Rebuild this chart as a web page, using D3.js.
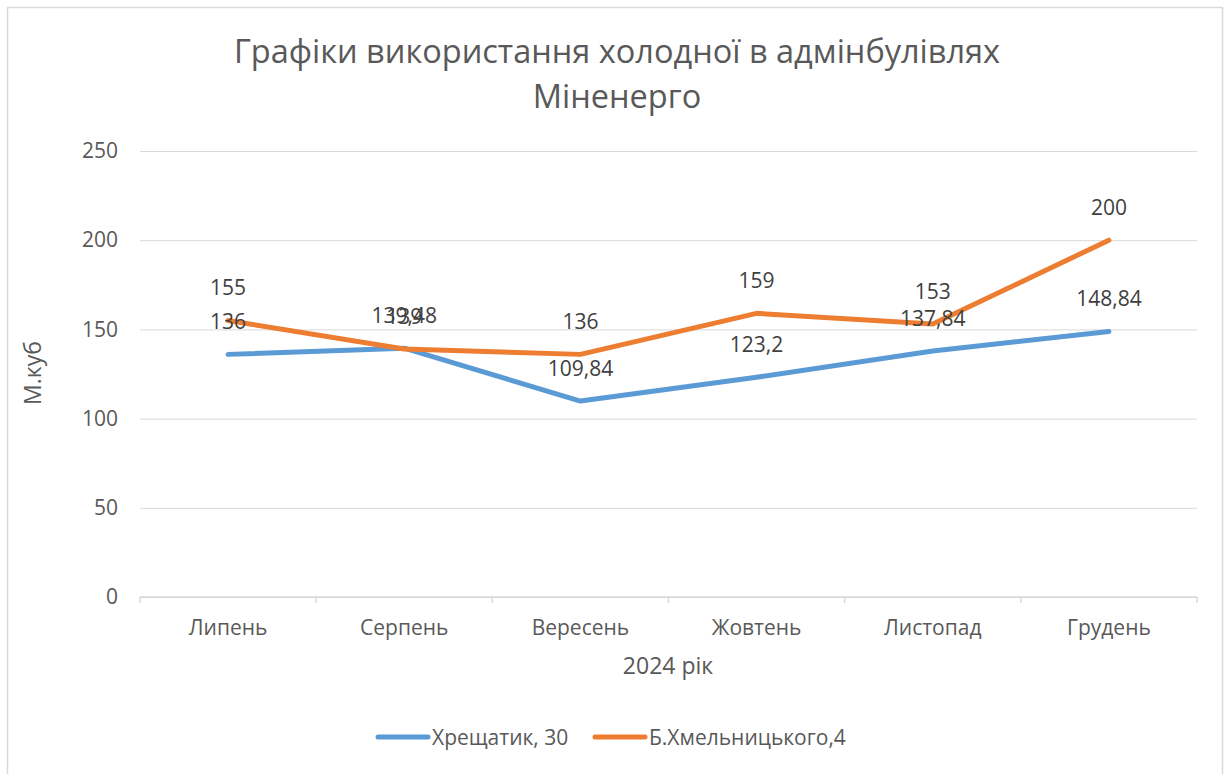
<!DOCTYPE html>
<html>
<head>
<meta charset="utf-8">
<script src="https://cdn.jsdelivr.net/npm/d3@7"></script>
<style>
  body { margin: 0; background: #fff; }
  text { font-family: "Open Sans", "Noto Sans", sans-serif; }
</style>
</head>
<body>
<div id="chart"></div>
<script>
// data
const months = ["Липень", "Серпень", "Вересень", "Жовтень", "Листопад", "Грудень"];
const khreshchatyk = [136, 139.48, 109.84, 123.2, 137.84, 148.84];
const khmelnytskoho = [155, 139, 136, 159, 153, 200];
const yTicks = [0, 50, 100, 150, 200, 250];

const series = [
  { name: "Хрещатик, 30", values: khreshchatyk, color: "#5B9BD5" },
  { name: "Б.Хмельницького,4", values: khmelnytskoho, color: "#ED7D31" }
];

const W = 1226, H = 774;
const margin = { top: 151, right: 29, bottom: 177, left: 140 };
const width = W - margin.left - margin.right,
  height = H - margin.top - margin.bottom;

const svg = d3.select("#chart").append("svg")
  .attr("width", W).attr("height", H);

// chart border
svg.append("rect")
  .attr("x", 7.5).attr("y", 7.5)
  .attr("width", 1215).attr("height", 790)
  .attr("fill", "#fff").attr("stroke", "#d9d9d9").attr("stroke-width", 1.5);

// title
svg.append("text")
  .attr("x", 617).attr("y", 63)
  .attr("text-anchor", "middle")
  .attr("font-size", 32.5).attr("fill", "#595959")
  .selectAll("tspan")
  .data(["Графіки використання холодної в адмінбулівлях", "Міненерго"])
  .join("tspan")
  .attr("x", 617).attr("dy", (d, i) => i ? 45 : 0)
  .text(d => d);

const g = svg.append("g")
  .attr("transform", "translate(" + margin.left + "," + margin.top + ")");

const x = d3.scaleBand().domain(months).range([0, width]);
const y = d3.scaleLinear().domain([0, 250]).range([height, 0]);

// gridlines + y labels
g.append("g")
  .call(d3.axisLeft(y).tickValues(yTicks).tickSize(-width).tickPadding(22))
  .call(a => a.select(".domain").remove())
  .call(a => a.selectAll("line").attr("stroke", "#d9d9d9"))
  .call(a => a.selectAll("text").attr("font-size", 21).attr("fill", "#595959")
    .attr("font-family", "Open Sans"));

// x axis with boundary ticks
const xAxis = g.append("g").attr("transform", "translate(0," + height + ")");
xAxis.append("line")
  .attr("x1", 0).attr("x2", width)
  .attr("stroke", "#d9d9d9").attr("stroke-width", 1.5);
xAxis.selectAll(".tk")
  .data(d3.range(months.length + 1))
  .join("line")
  .attr("x1", i => i * x.bandwidth()).attr("x2", i => i * x.bandwidth())
  .attr("y1", 0).attr("y2", 6)
  .attr("stroke", "#d9d9d9").attr("stroke-width", 1.5);
xAxis.selectAll(".lbl")
  .data(months)
  .join("text")
  .attr("x", d => x(d) + x.bandwidth() / 2)
  .attr("y", 38)
  .attr("text-anchor", "middle")
  .attr("font-size", 21).attr("fill", "#595959")
  .text(d => d);

// axis titles
svg.append("text")
  .attr("transform", "translate(41,373) rotate(-90)")
  .attr("text-anchor", "middle")
  .attr("font-size", 23).attr("fill", "#595959")
  .text("М.куб");
svg.append("text")
  .attr("x", 668).attr("y", 674)
  .attr("text-anchor", "middle")
  .attr("font-size", 23).attr("fill", "#595959")
  .text("2024 рік");

// lines
const line = d3.line()
  .x((d, i) => x(months[i]) + x.bandwidth() / 2)
  .y(d => y(d));

series.forEach(s => {
  g.append("path")
    .datum(s.values)
    .attr("fill", "none")
    .attr("stroke", s.color)
    .attr("stroke-width", 5)
    .attr("stroke-linecap", "round")
    .attr("stroke-linejoin", "round")
    .attr("d", line);
});

// data labels
const fmt = v => String(v).replace(".", ",");
series.forEach(s => {
  g.selectAll(null)
    .data(s.values)
    .join("text")
    .attr("x", (d, i) => x(months[i]) + x.bandwidth() / 2)
    .attr("y", d => y(d) - 25)
    .attr("text-anchor", "middle")
    .attr("font-size", 21).attr("fill", "#404040")
    .text(fmt);
});

// legend
const legend = svg.append("g").attr("transform", "translate(0,737)");
const legX = [378, 595];
series.forEach((s, i) => {
  legend.append("line")
    .attr("x1", legX[i]).attr("x2", legX[i] + 50)
    .attr("stroke", s.color).attr("stroke-width", 5)
    .attr("stroke-linecap", "round");
  legend.append("text")
    .attr("x", legX[i] + 54).attr("y", 8)
    .attr("font-size", 21).attr("fill", "#595959")
    .text(s.name);
});
</script>
</body>
</html>
